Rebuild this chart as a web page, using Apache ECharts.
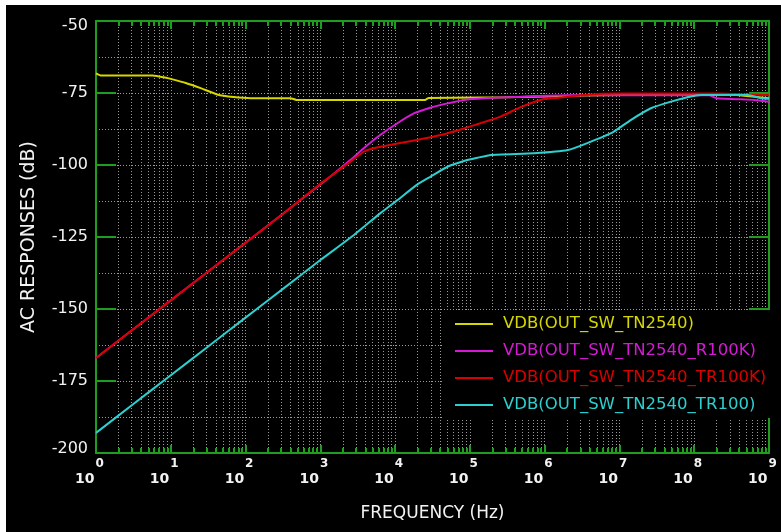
<!DOCTYPE html>
<html><head><meta charset="utf-8">
<script src="https://cdn.jsdelivr.net/npm/echarts@6/dist/echarts.min.js"></script>
<style>
html,body{margin:0;padding:0;background:#fff;}
#bg{position:absolute;left:6px;top:5px;width:775px;height:527px;background:#000;}
#chart{position:absolute;left:0;top:0;width:781px;height:532px;}
</style></head><body>
<div id="bg"></div><div id="chart"></div>
<script>
// ---- data (frequency given as log10(Hz) exponent, response in dB) ----
const seriesNames = ['VDB(OUT_SW_TN2540)','VDB(OUT_SW_TN2540_R100K)','VDB(OUT_SW_TN2540_TR100K)','VDB(OUT_SW_TN2540_TR100)'];
const seriesColors = ['#d6d600','#d41ad4','#d80000','#2ecfcf'];

const yellowLogF = [0, 0.06, 0.76, 0.95, 1.0, 1.2, 1.4, 1.62, 1.84, 2.07, 2.6, 2.68, 4.4, 4.45, 5.5, 6.5, 7.5, 8.5, 9];
const yellowDB   = [-68.2, -68.9, -68.9, -69.8, -70.1, -71.5, -73.3, -75.5, -76.4, -76.8, -76.8, -77.4, -77.4, -76.7, -76.5, -75.9, -75.5, -75.6, -76.8];

const magentaLogF = [0, 1, 2, 3, 3.13, 3.40, 3.58, 3.80, 4.03, 4.25, 4.47, 4.70, 4.92, 5.2, 5.6, 6.3, 8.2, 8.3, 8.8, 9];
const magentaDB   = [-167, -147, -127, -106.8, -104.1, -98.3, -94.2, -89.6, -85.5, -82.1, -80.1, -78.6, -77.4, -76.8, -76.4, -75.8, -75.8, -76.8, -77.4, -78];

const redLogF = [0, 0.5, 1, 1.5, 2, 2.5, 3, 3.13, 3.40, 3.58, 3.71, 4.03, 4.29, 4.61, 4.92, 5.14, 5.41, 5.68, 5.99, 6.21, 6.52, 7.0, 8.3, 9];
const redDB   = [-167, -157, -147, -137, -127, -117, -106.5, -104.1, -98.9, -95.4, -94.2, -92.5, -91.3, -89.6, -87.3, -85.5, -83.2, -79.9, -77.1, -76.6, -75.7, -75.2, -75.2, -75.8];

const cyanLogF = [0, 0.5, 1, 1.5, 2, 2.5, 3, 3.45, 3.8, 4.03, 4.29, 4.47, 4.70, 4.92, 5.10, 5.28, 5.86, 6.31, 6.57, 6.92, 7.15, 7.42, 7.69, 7.91, 8.09, 8.72, 8.89, 9];
const cyanDB   = [-193, -183, -173, -163, -153, -143, -133, -124.3, -116.8, -112.2, -106.9, -104.1, -100.6, -98.6, -97.5, -96.5, -95.9, -94.8, -92.4, -88.5, -84.4, -80.3, -78.0, -76.5, -75.7, -75.7, -76.8, -77];

const xDecadeExps = [0,1,2,3,4,5,6,7,8,9];
const minorMultipliers = [2,3,4,5,6,7,8,9];
const yMin = -200, yMax = -50, yStep = 25;

// ---- build ----
const toPairs = (lf, db) => lf.map((e, i) => [Math.pow(10, e), db[i]]);
const seriesData = [toPairs(yellowLogF, yellowDB), toPairs(magentaLogF, magentaDB), toPairs(redLogF, redDB), toPairs(cyanLogF, cyanDB)];
const decadeVals = xDecadeExps.map(e => Math.pow(10, e));
const minorVals = [];
xDecadeExps.slice(0, -1).forEach(e => minorMultipliers.forEach(m => minorVals.push(m * Math.pow(10, e))));

const GREEN = '#1f9d1f';
const GRIDC = '#9a9a9a';
const FONT = 'DejaVu Sans';
const TXT = '#f2f2f2';
const dotted = {color: GRIDC, width: 1, type: [1, 2]};

const chart = echarts.init(document.getElementById('chart'), null, {renderer: 'canvas'});

const baseLog = {type: 'log', logBase: 10, min: 1, max: 1e9, gridIndex: 0};

chart.setOption({
  backgroundColor: 'transparent',
  animation: false,
  grid: {left: 96, top: 21, width: 673, height: 432, containLabel: false, outerBoundsMode: 'none', show: false},
  legend: {
    orient: 'vertical', left: 443, top: 310,
    backgroundColor: '#000', padding: [5, 6, 4, 12],
    icon: 'rect', itemWidth: 38, itemHeight: 2, itemGap: 9,
    data: seriesNames.map((n, i) => ({name: n, textStyle: {color: seriesColors[i]}})),
    textStyle: {fontFamily: FONT, fontSize: 16.5, lineHeight: 18, padding: [0, 0, 0, 5]},
    selectedMode: false
  },
  xAxis: [
    Object.assign({}, baseLog, {
      position: 'bottom',
      axisLine: {show: true, lineStyle: {color: GREEN, width: 2}},
      axisTick: {show: true, inside: true, length: 8, customValues: decadeVals, lineStyle: {color: GREEN, width: 2}},
      axisLabel: {
        show: true, customValues: decadeVals, margin: 5, align: 'center', padding: [0, 13, 0, 0],
        formatter: v => '{b|10}{s|' + Math.round(Math.log10(v)) + '}',
        rich: {
          b: {color: TXT, fontFamily: FONT, fontSize: 14, fontWeight: 'bold', lineHeight: 28, verticalAlign: 'bottom'},
          s: {color: TXT, fontFamily: FONT, fontSize: 12, fontWeight: 'bold', lineHeight: 28, verticalAlign: 'top', padding: [0, 0, 0, 1]}
        }
      },
      splitLine: {show: true, lineStyle: dotted},
      name: 'FREQUENCY (Hz)', nameLocation: 'middle', nameGap: 52,
      nameTextStyle: {color: TXT, fontFamily: FONT, fontSize: 17}
    }),
    Object.assign({}, baseLog, {
      position: 'bottom',
      axisLine: {show: false},
      axisTick: {show: true, inside: true, length: 5, customValues: minorVals, lineStyle: {color: GREEN, width: 2}},
      axisLabel: {show: false},
      splitLine: {show: true, lineStyle: dotted}
    }),
    Object.assign({}, baseLog, {
      position: 'top',
      axisLine: {show: true, lineStyle: {color: GREEN, width: 2}},
      axisTick: {show: true, inside: true, length: 8, customValues: decadeVals, lineStyle: {color: GREEN, width: 2}},
      axisLabel: {show: false},
      splitLine: {show: false}
    }),
    Object.assign({}, baseLog, {
      position: 'top',
      axisLine: {show: false},
      axisTick: {show: true, inside: true, length: 5, customValues: minorVals, lineStyle: {color: GREEN, width: 2}},
      axisLabel: {show: false},
      splitLine: {show: false}
    })
  ],
  yAxis: [
    {
      type: 'value', min: yMin, max: yMax, interval: yStep, position: 'left',
      axisLine: {show: true, lineStyle: {color: GREEN, width: 2}},
      axisTick: {show: true, inside: true, length: 20, lineStyle: {color: GREEN, width: 2}},
      minorTick: {show: false, splitNumber: 2},
      axisLabel: {
        color: TXT, fontFamily: FONT, fontSize: 16, margin: 8,
        formatter: v => v === yMax ? '{t|' + v + '}' : (v === yMin ? '{m|' + v + '}' : String(v)),
        rich: {
          t: {color: TXT, fontFamily: FONT, fontSize: 16, lineHeight: 26, verticalAlign: 'bottom'},
          m: {color: TXT, fontFamily: FONT, fontSize: 16, lineHeight: 24, verticalAlign: 'top'}
        }
      },
      splitLine: {show: true, lineStyle: dotted},
      minorSplitLine: {show: true, lineStyle: dotted},
      name: 'AC RESPONSES (dB)', nameLocation: 'middle', nameRotate: 90, nameGap: 57,
      nameTextStyle: {color: TXT, fontFamily: FONT, fontSize: 19}
    },
    {
      type: 'value', min: yMin, max: yMax, interval: yStep, position: 'right',
      axisLine: {show: true, lineStyle: {color: GREEN, width: 2}},
      axisTick: {show: true, inside: true, length: 20, lineStyle: {color: GREEN, width: 2}},
      axisLabel: {show: false},
      splitLine: {show: false}
    }
  ],
  series: seriesNames.map((n, i) => ({
    name: n, type: 'line', xAxisIndex: 0, yAxisIndex: 0,
    data: seriesData[i], showSymbol: false, symbol: 'none', smooth: 0.15,
    lineStyle: {color: seriesColors[i], width: 2}, itemStyle: {color: seriesColors[i]},
    z: 3, silent: true
  }))
});
</script></body></html>
